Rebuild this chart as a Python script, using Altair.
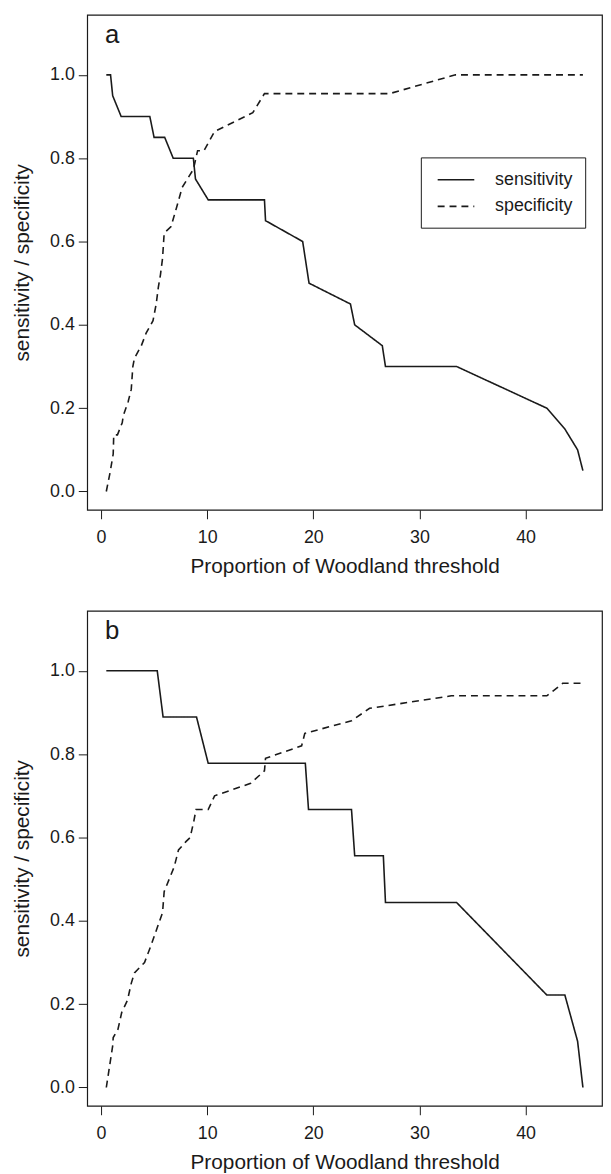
import altair as alt
import pandas as pd

# ---- data ----
series_names = ["sensitivity", "specificity"]

sens_a_x = [0.5, 0.9, 1.1, 1.9, 4.6, 5.0, 6.0, 6.8, 8.7, 8.9, 10.1, 15.4, 15.5, 19.0, 19.3, 19.6,
            23.5, 23.9, 26.5, 26.8, 33.5, 42.0, 43.7, 44.9, 45.4]
sens_a_y = [1.0, 1.0, 0.95, 0.90, 0.90, 0.85, 0.85, 0.80, 0.80, 0.75, 0.70, 0.70, 0.65, 0.60, 0.55, 0.50,
            0.45, 0.40, 0.35, 0.30, 0.30, 0.20, 0.15, 0.10, 0.05]

spec_a_x = [0.5, 0.85, 1.15, 1.2, 1.55, 2.0, 2.1, 2.55, 2.85, 3.0, 3.15, 3.8, 4.25, 4.9, 5.2, 5.4,
            5.6, 5.8, 5.95, 6.6, 7.1, 7.65, 8.7, 9.1, 9.7, 10.7, 14.3, 15.4, 27.2, 33.4, 45.4]
spec_a_y = [0.0, 0.045, 0.09, 0.136, 0.136, 0.165, 0.182, 0.215, 0.245, 0.30, 0.32, 0.35, 0.38, 0.41, 0.45, 0.49,
            0.52, 0.56, 0.62, 0.636, 0.68, 0.73, 0.773, 0.818, 0.818, 0.864, 0.909, 0.955, 0.955, 1.0, 1.0]

sens_b_x = [0.5, 5.3, 5.85, 9.0, 10.1, 19.25, 19.55, 23.6, 23.9, 26.6, 26.8, 33.5, 42.0, 43.7, 44.9, 45.4]
sens_b_y = [1.0, 1.0, 0.889, 0.889, 0.778, 0.778, 0.667, 0.667, 0.556, 0.556, 0.444, 0.444, 0.222, 0.222,
            0.111, 0.0]

spec_b_x = [0.5, 1.1, 1.15, 1.6, 1.95, 2.5, 2.85, 3.15, 4.1, 4.7, 5.8, 5.95, 6.9, 7.3, 8.0, 8.4,
            8.75, 8.95, 10.1, 10.7, 14.1, 15.4, 15.5, 18.9, 19.2, 23.6, 25.3, 33.0, 42.0, 43.5, 45.4]
spec_b_y = [0.0, 0.10, 0.12, 0.14, 0.18, 0.21, 0.25, 0.275, 0.30, 0.34, 0.42, 0.47, 0.53, 0.57, 0.59, 0.60,
            0.64, 0.667, 0.667, 0.70, 0.73, 0.76, 0.79, 0.82, 0.85, 0.88, 0.91, 0.94, 0.94, 0.97, 0.97]

x_ticks = [0, 10, 20, 30, 40]
y_ticks = [0.0, 0.2, 0.4, 0.6, 0.8, 1.0]
panel_labels = ["a", "b"]
x_title = "Proportion of Woodland threshold"
y_title = "sensitivity / specificity"


def make_df(sx, sy, px, py):
    rows = []
    for i, (x, y) in enumerate(zip(sx, sy)):
        rows.append({"series": series_names[0], "x": x, "y": y, "i": i})
    for i, (x, y) in enumerate(zip(px, py)):
        rows.append({"series": series_names[1], "x": x, "y": y, "i": i})
    return pd.DataFrame(rows)


FONT = "Liberation Sans"
INK = "#1a1a1a"


def panel(df, letter):
    lines = alt.Chart(df).mark_line(color=INK, strokeWidth=1.6).encode(
        x=alt.X("x:Q",
                scale=alt.Scale(domain=[-1.3, 47.2], nice=False, zero=False),
                axis=alt.Axis(values=x_ticks, title=x_title, labelPadding=10, titlePadding=9)),
        y=alt.Y("y:Q",
                scale=alt.Scale(domain=[-0.044, 1.144], nice=False, zero=False),
                axis=alt.Axis(values=y_ticks, format=".1f", title=y_title,
                              labelPadding=4, titlePadding=17)),
        strokeDash=alt.StrokeDash(
            "series:N",
            scale=alt.Scale(domain=series_names, range=[[1, 0], [7, 5]]),
            legend=alt.Legend(
                title=None, orient="none", legendX=337, legendY=144,
                strokeColor=INK, padding=12, symbolType="M-2,0H2",
                symbolSize=342, symbolStrokeWidth=1.6, symbolStrokeColor=INK,
                symbolOffset=13, labelOffset=29, labelFontSize=18, labelFont=FONT,
                labelColor=INK, rowPadding=7,
            ),
        ),
        order="i:Q",
    )
    label = alt.Chart(pd.DataFrame({"label": [letter]})).mark_text(
        font=FONT, fontSize=26, color=INK, align="left", baseline="alphabetic"
    ).encode(text="label:N", x=alt.value(18), y=alt.value(28))
    return alt.layer(lines, label).properties(width=520, height=500)


chart_a = panel(make_df(sens_a_x, sens_a_y, spec_a_x, spec_a_y), panel_labels[0])
chart_b = panel(make_df(sens_b_x, sens_b_y, spec_b_x, spec_b_y), panel_labels[1])

chart = alt.vconcat(chart_a, chart_b, spacing=33).properties(
    padding={"left": 3, "top": 0, "right": 0, "bottom": 0}
).configure_view(
    stroke=INK, strokeWidth=1.2
).configure_axis(
    domain=False, grid=False, tickSize=9, tickColor=INK, tickWidth=1,
    labelFontSize=18, titleFontSize=21, labelFont=FONT, titleFont=FONT,
    labelColor=INK, titleColor=INK, titleFontWeight="normal",
)

chart.save("out.html", embed_options={"renderer": "svg", "actions": False})
